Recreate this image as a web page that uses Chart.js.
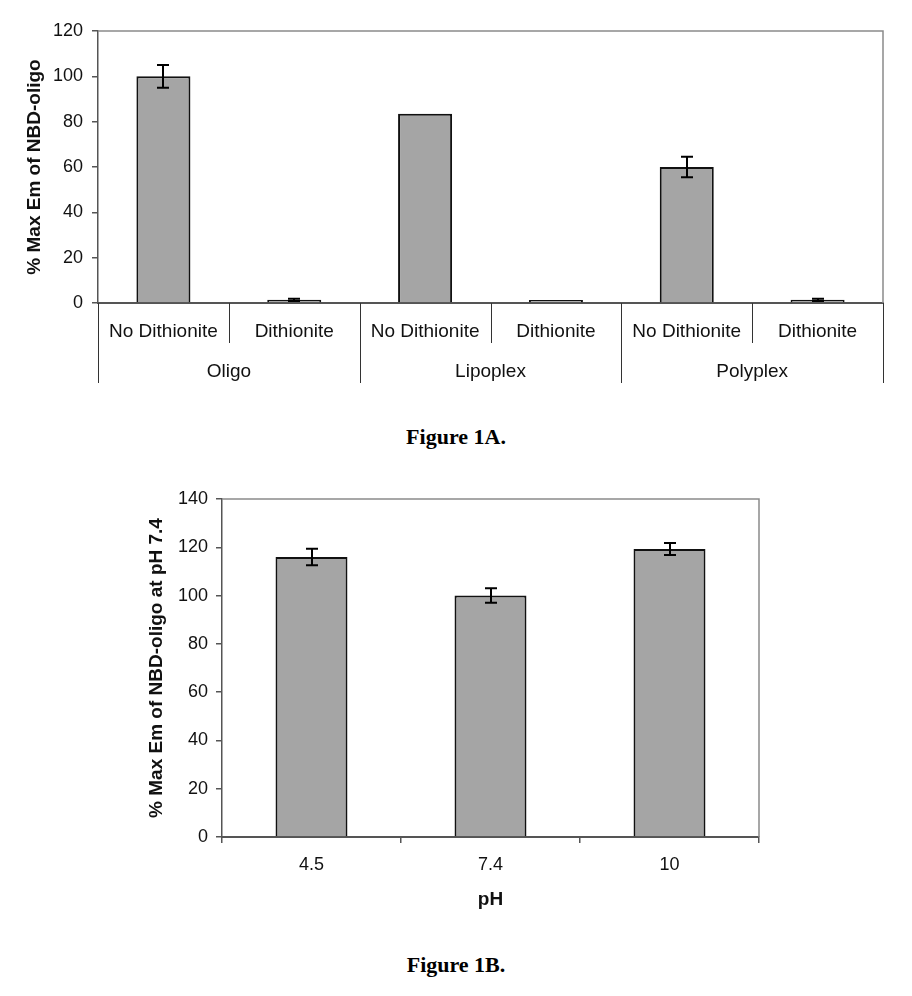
<!DOCTYPE html>
<html>
<head>
<meta charset="utf-8">
<script src="https://cdn.jsdelivr.net/npm/chart.js@4.4.0/dist/chart.umd.js"></script>
<style>
  body {
    margin: 0;
    background: #fff;
    width: 912px;
    height: 996px;
    position: relative;
    overflow: hidden;
    font-family: 'Liberation Sans', Arial, sans-serif;
  }
  canvas { position: absolute; left: 0; }
  #chartA { top: 0; }
  #chartB { top: 420px; }
  .caption {
    position: absolute;
    left: 0;
    width: 912px;
    text-align: center;
    font-family: 'Liberation Serif', 'Times New Roman', serif;
    font-weight: bold;
    font-size: 22px;
    line-height: 26px;
    color: #000;
  }
</style>
</head>
<body>
<canvas id="chartA" width="912" height="400"></canvas>
<div class="caption" style="top:424px">Figure 1A.</div>
<canvas id="chartB" width="912" height="500"></canvas>
<div class="caption" style="top:952px">Figure 1B.</div>

<script>
// Figure 1A data
const conditionsA = ['No Dithionite', 'Dithionite', 'No Dithionite', 'Dithionite', 'No Dithionite', 'Dithionite'];
const groupsA = ['Oligo', 'Lipoplex', 'Polyplex'];
const valuesA = [100, 1.4, 83.5, 1.3, 60, 1.4];
const errorsA = [5, 0.5, 0, 0, 4.5, 0.5];

// Figure 1B data
const phLabels = ['4.5', '7.4', '10'];
const valuesB = [116, 100, 119.3];
const errorsB = [3.4, 3, 2.5];

const FONT = "'Liberation Sans', Arial, sans-serif";
const BAR_FILL = '#a5a5a5';
const AXIS_COLOR = '#555';

// error bars drawn on top of the bars
const errorBarPlugin = {
  id: 'errorBars',
  afterDatasetsDraw(chart, args, opts) {
    const ctx = chart.ctx;
    const y = chart.scales.y;
    const meta = chart.getDatasetMeta(0);
    const vals = chart.data.datasets[0].data;
    ctx.save();
    ctx.strokeStyle = '#000';
    ctx.lineWidth = 2;
    meta.data.forEach((bar, i) => {
      const e = opts.errors[i];
      if (!e) return;
      const top = y.getPixelForValue(vals[i] + e);
      const bot = y.getPixelForValue(vals[i] - e);
      const cx = Math.round(bar.x);
      ctx.beginPath();
      ctx.moveTo(cx, top);
      ctx.lineTo(cx, bot);
      ctx.moveTo(cx - 6, top);
      ctx.lineTo(cx + 6, top);
      ctx.moveTo(cx - 6, bot);
      ctx.lineTo(cx + 6, bot);
      ctx.stroke();
    });
    ctx.restore();
  }
};

// grey frame on top and right of the plot area
const framePlugin = {
  id: 'frame',
  afterDraw(chart) {
    const {ctx, chartArea: a} = chart;
    ctx.save();
    ctx.strokeStyle = '#8a8a8a';
    ctx.lineWidth = 1.5;
    ctx.beginPath();
    ctx.moveTo(a.left, a.top);
    ctx.lineTo(a.right, a.top);
    ctx.lineTo(a.right, a.bottom);
    ctx.stroke();
    ctx.restore();
  }
};

// two level category axis for figure 1A
const groupAxisPlugin = {
  id: 'groupAxis',
  afterDraw(chart) {
    const {ctx, chartArea: a} = chart;
    const x = chart.scales.x;
    const half = (x.getPixelForValue(1) - x.getPixelForValue(0)) / 2;
    ctx.save();
    ctx.strokeStyle = '#333';
    ctx.lineWidth = 1;
    for (let i = 0; i <= conditionsA.length; i++) {
      const bx = Math.round(x.getPixelForValue(Math.min(i, conditionsA.length - 1)) + (i < conditionsA.length ? -half : half)) + 0.5;
      const len = i % 2 === 0 ? 80 : 40;
      ctx.beginPath();
      ctx.moveTo(bx, a.bottom);
      ctx.lineTo(bx, a.bottom + len);
      ctx.stroke();
    }
    ctx.fillStyle = '#111';
    ctx.font = '19px ' + FONT;
    ctx.textAlign = 'center';
    ctx.textBaseline = 'middle';
    groupsA.forEach((g, k) => {
      const cx = (x.getPixelForValue(2 * k) + x.getPixelForValue(2 * k + 1)) / 2;
      ctx.fillText(g, cx, a.bottom + 69);
    });
    ctx.restore();
  }
};

const chartA = new Chart(document.getElementById('chartA'), {
  type: 'bar',
  data: {
    labels: conditionsA,
    datasets: [{
      data: valuesA,
      backgroundColor: BAR_FILL,
      borderColor: '#111',
      borderWidth: 2,
      categoryPercentage: 1,
      barPercentage: 0.413,
    }]
  },
  options: {
    responsive: false,
    animation: false,
    devicePixelRatio: 1,
    layout: {padding: {left: 0, right: 29, top: 31, bottom: 0}},
    plugins: {
      legend: {display: false},
      tooltip: {enabled: false},
      errorBars: {errors: errorsA},
    },
    scales: {
      x: {
        afterFit(scale) { scale.height = 97; },
        grid: {display: true, drawOnChartArea: false, drawTicks: false},
        border: {display: true, color: AXIS_COLOR, width: 2},
        ticks: {color: '#111', font: {family: FONT, size: 19}, padding: 17, maxRotation: 0, autoSkip: false},
      },
      y: {
        min: 0,
        max: 120,
        afterFit(scale) { scale.width = 98; },
        ticks: {stepSize: 20, color: '#111', font: {family: FONT, size: 18}, padding: 9},
        grid: {drawOnChartArea: false, drawTicks: true, tickLength: 6, color: AXIS_COLOR, lineWidth: 1.5},
        border: {display: true, color: AXIS_COLOR, width: 1.5},
        title: {
          display: true,
          text: '% Max Em of NBD-oligo',
          color: '#111',
          font: {family: FONT, size: 19, weight: 'bold'},
          padding: {top: 23, bottom: 0},
        },
      }
    }
  },
  plugins: [errorBarPlugin, framePlugin, groupAxisPlugin]
});

const chartB = new Chart(document.getElementById('chartB'), {
  type: 'bar',
  data: {
    labels: phLabels,
    datasets: [{
      data: valuesB,
      backgroundColor: BAR_FILL,
      borderColor: '#111',
      borderWidth: 2,
      categoryPercentage: 1,
      barPercentage: 0.402,
    }]
  },
  options: {
    responsive: false,
    animation: false,
    devicePixelRatio: 1,
    layout: {padding: {left: 0, right: 153, top: 79, bottom: 0}},
    plugins: {
      legend: {display: false},
      tooltip: {enabled: false},
      errorBars: {errors: errorsB},
    },
    scales: {
      x: {
        afterFit(scale) { scale.height = 83; },
        grid: {display: true, offset: true, drawOnChartArea: false, drawTicks: true, tickLength: 6, color: AXIS_COLOR, lineWidth: 1.5},
        border: {display: true, color: AXIS_COLOR, width: 2},
        ticks: {color: '#111', font: {family: FONT, size: 18}, padding: 11, maxRotation: 0},
        title: {
          display: true,
          text: 'pH',
          color: '#111',
          font: {family: FONT, size: 19, weight: 'bold'},
          padding: {top: 0, bottom: 9},
        },
      },
      y: {
        min: 0,
        max: 140,
        afterFit(scale) { scale.width = 222; },
        ticks: {stepSize: 20, color: '#111', font: {family: FONT, size: 18}, padding: 8},
        grid: {drawOnChartArea: false, drawTicks: true, tickLength: 6, color: AXIS_COLOR, lineWidth: 1.5},
        border: {display: true, color: AXIS_COLOR, width: 1.5},
        title: {
          display: true,
          text: '% Max Em of NBD-oligo at pH 7.4',
          color: '#111',
          font: {family: FONT, size: 19, weight: 'bold'},
          padding: {top: 145, bottom: 0},
        },
      }
    }
  },
  plugins: [errorBarPlugin, framePlugin]
});
</script>
</body>
</html>
